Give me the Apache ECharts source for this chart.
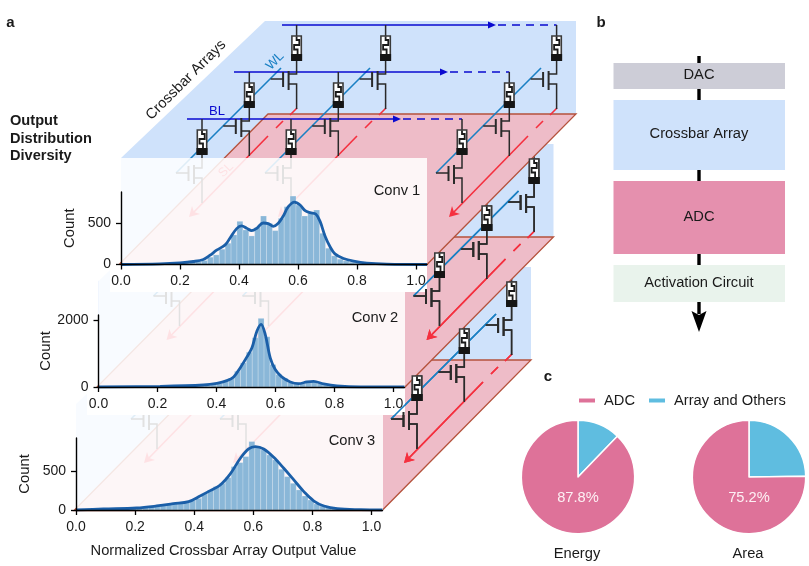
<!DOCTYPE html>
<html><head><meta charset="utf-8">
<style>html,body{margin:0;padding:0;background:#fff}#c{width:809px;height:566px}</style>
<script src="https://cdn.jsdelivr.net/npm/echarts@6/dist/echarts.min.js"></script>
</head><body><div id="c"></div>
<script>
// ---------- data ----------
const xTicks = [0, 0.2, 0.4, 0.6, 0.8, 1.0];
const yTicks1 = [0, 500];
const yTicks2 = [0, 2000];
const yTicks3 = [0, 500];
const panelNames = ['Conv 1', 'Conv 2', 'Conv 3'];
const binWidth = 0.02;

const binCenters1 = [.203,.223,.243,.263,.283,.303,.323,.343,.363,.383,.403,.423,.443,.463,.483,.503,.523,.543,.563,.583,.603,.623,.643,.663,.683,.703,.723,.743,.763,.783,.803,.823,.843];
const binCounts1  = [8,12,20,32,48,88,116,184,256,356,520,416,344,448,584,496,408,556,696,824,716,584,616,656,376,196,104,64,44,28,20,12,8];
const kdeX1 = [0,.132,.2,.245,.279,.302,.324,.353,.369,.392,.409,.426,.443,.46,.482,.499,.516,.533,.55,.567,.588,.607,.624,.641,.66,.675,.692,.708,.725,.754,.788,.833,.9,1.037];
const kdeY1 = [0,8,20,36,60,112,172,236,316,432,464,436,408,436,500,492,460,496,584,696,752,716,648,624,608,516,336,216,128,72,40,16,4,0];

const binCenters2 = [.311,.331,.351,.371,.391,.411,.431,.451,.471,.491,.511,.531,.551,.571,.591,.611,.631,.651,.671,.691,.711,.731,.751,.771,.791,.811,.831];
const binCounts2  = [10,15,20,40,60,100,170,270,470,720,1040,1470,2050,1500,670,370,270,140,90,100,160,160,100,60,30,20,10];
const kdeX2 = [0,.209,.356,.401,.435,.458,.48,.503,.52,.537,.551,.565,.582,.599,.621,.65,.678,.706,.729,.763,.808,.887,1.037];
const kdeY2 = [0,20,60,110,190,300,570,900,1170,1670,1870,1570,870,520,300,150,100,150,170,90,30,0,0];

const binCenters3 = [.135,.155,.175,.195,.215,.235,.255,.275,.295,.315,.335,.355,.375,.395,.415,.435,.455,.475,.495,.515,.535,.555,.575,.595,.615,.635,.655,.675,.695,.715,.735,.755,.775,.795,.815,.835,.855,.875,.895,.915];
const binCounts3  = [9,13,17,22,26,30,39,47,56,69,82,95,108,121,151,207,259,302,345,418,560,612,690,884,820,776,711,647,526,431,345,259,181,129,78,52,34,22,15,8];
const kdeX3 = [0,.093,.205,.273,.329,.381,.42,.454,.488,.522,.556,.584,.607,.635,.669,.703,.737,.771,.805,.839,.884,.963,1.037];
const kdeY3 = [0,13,26,52,82,108,181,250,323,466,668,789,819,789,681,539,388,237,116,52,17,4,0];

const pieNames = ['Energy', 'Area'];
const adcShare = [87.8, 75.2];
const arrayShare = [12.2, 24.8];
const sliceNames = ['ADC', 'Array and Others'];
const blockNames = ['DAC', 'Crossbar Array', 'ADC', 'Activation Circuit'];

// ---------- layout ----------
const FONT = '"Liberation Sans", Arial, sans-serif';
const TXT = '#1a1a1a';
const FS = 14.7;
const C = {blue:'#cfe2fb', pink:'#eebcc8', edge:'#b5523c', bl:'#0a0ad0', wl:'#1a80c4', sl:'#f5303f', wire:'#2a2a2a'};
const panels = [
  {left:121, bottom:264.5, top:192, width:306, yMax:873,  yTicks:yTicks1, nameGap:44, bins:binCenters1, counts:binCounts1, kx:kdeX1, ky:kdeY1},
  {left:98.5,bottom:387,   top:315, width:306, yMax:2150, yTicks:yTicks2, nameGap:45, bins:binCenters2, counts:binCounts2, kx:kdeX2, ky:kdeY2},
  {left:76,  bottom:510,   top:438, width:306.5, yMax:930,  yTicks:yTicks3, nameGap:44, bins:binCenters3, counts:binCounts3, kx:kdeX3, ky:kdeY3}
];
const X_MAX = 1.037;

const G = [];
const base = {silent:true, z:1};
function poly(points, fill, stroke, lw){G.push({...base,type:'polygon',shape:{points},style:{fill,stroke:stroke||null,lineWidth:lw||0}});}
function pl(points, stroke, lw, dash){G.push({...base,type:'polyline',shape:{points},style:{stroke,lineWidth:lw||1.5,fill:null,lineDash:dash||null}});}
function rect(x,y,w,h,fill,opacity,stroke,slw){G.push({...base,type:'rect',shape:{x,y,width:w,height:h},style:{fill,opacity:opacity==null?1:opacity,stroke:stroke||null,lineWidth:stroke?(slw||1):0}});}
function txt(text,x,y,o){o=o||{};G.push({...base,z:o.z||1,type:'text',x,y,rotation:o.rot||0,style:{text,x:0,y:0,fill:o.fill||TXT,font:(o.bold?'bold ':'')+(o.size||FS)+'px '+FONT,align:o.align||'center',verticalAlign:'middle'}});}

function cell(cx, bl, topWire){
  if(topWire) pl([[cx,bl],[cx,bl+11]],C.wire,1.5);
  pl([[cx,bl+36],[cx,bl+49],[cx-8,bl+49]],C.wire,1.5);
  pl([[cx-8,bl+46],[cx-8,bl+65]],C.wire,2);
  pl([[cx-8,bl+59],[cx,bl+59],[cx,bl+84]],C.wire,1.5);
  pl([[cx-13.5,bl+47],[cx-13.5,bl+62]],C.wire,2);
  pl([[cx-26,bl+54],[cx-13.5,bl+54]],C.wire,1.5);
  rect(cx-4.7,bl+11,9.4,24,'#fff',1,'#3a3a3a',1.6);
  rect(cx-5.5,bl+29,11,7,'#151515');
  pl([[cx,bl+11.5],[cx,bl+15],[cx+2.7,bl+15],[cx+2.7,bl+20],[cx-2.5,bl+20],[cx-2.5,bl+24.5],[cx+1,bl+24.5],[cx+1,bl+29]],'#1a1a1a',1.8);
}
const colX = [202,291,462], rowStep = 47.3, rowY = [119,72,25], blStart=[187,234,282], blHead=[400,447,495];
function colLines(c0,dx,dy){
  const p = (x,y)=>[x+dx,y+dy];
  pl([p(c0-26,173),p(c0+79,68)],C.wl,1.6);
  pl([p(c0-13+3,217-3),p(c0+66,136)],C.sl,1.6);
  pl([p(c0+74,128),p(c0+81,121)],C.sl,1.6);
  pl([p(c0+88,115),p(c0+95,108)],C.sl,1.6);
  poly([p(c0-13,217),p(c0-10,206),p(c0-8,212),p(c0-2,214)],C.sl);
}
function plane(dx,dy){
  const p=(x,y)=>[x+dx,y+dy];
  poly([p(265,21),p(576,21),p(576,114),p(271,114),p(121,264),p(121,158)],C.blue);
  poly([p(268,114),p(576,114),p(427,264.5),p(119,264.5)],C.pink,C.edge,1.3);
  colX.forEach(c=>colLines(c,dx,dy));
  rowY.forEach((y,i)=>{
    const lastX=colX[2]+i*rowStep;
    pl([p(blStart[i],y),p(blHead[i]-4,y)],C.bl,1.7);
    poly([p(blHead[i]+1,y),p(blHead[i]-7,y-3.5),p(blHead[i]-7,y+3.5)],C.bl);
    pl([p(blHead[i]+3,y),p(lastX,y)],C.bl,1.7,[8,6]);
  });
  colX.forEach(c=>rowY.forEach((y,i)=>cell(c+i*rowStep+dx,y+dy,true)));
}
function colCTop(dx,dy){
  colLines(colX[2],dx,dy);
  rowY.forEach((y,i)=>cell(colX[2]+i*rowStep+dx,y+dy,false));
}

// plane 3
plane(-45,246);
rect(76,387,307,123,'#fff',.86);
rect(30,281,68,106,'#fff');
// plane 2
plane(-22.5,123);
rect(98.5,264.5,306.5,122.5,'#fff',.86);
rect(87,387,318,28,'#fff');
rect(30,158,91,106.5,'#fff');
// plane 1
plane(0,0);
txt('SL',226,170,{fill:C.sl,size:12.5,rot:Math.PI/4});
rect(121,158,306,106.5,'#fff',.86);
rect(110,264.5,317,27.5,'#fff');
colCTop(-22.5,123);
colCTop(-45,246);

txt('Crossbar Arrays',186,80,{rot:Math.PI/4});
txt('WL',275,61,{fill:C.wl,size:13,rot:Math.PI/4});
txt('BL',217,111,{fill:C.bl,size:13});
txt('a',10.5,23,{bold:true,size:15});
txt('b',601,23,{bold:true,size:15});
txt('c',548,377,{bold:true,size:15});
['Output','Distribution','Diversity'].forEach((t,i)=>txt(t,10,121+i*17.5,{bold:true,size:14.6,align:'left'}));
txt(panelNames[0],397,191);
txt(panelNames[1],375,318);
txt(panelNames[2],352,441);
txt('Normalized Crossbar Array Output Value',223.5,551);

// panel b
pl([[699,56],[699,314]],'#000',3.4);
poly([[699,332],[691.5,311],[699,315],[706.5,311]],'#000');
const blocks=[[63,26,'#cdcdd7'],[100,70,'#cfe2fb'],[181,73,'#e590ae'],[265,37,'#e9f3ec']];
blocks.forEach((b,i)=>{rect(613.5,b[0],171.5,b[1],b[2]);txt(blockNames[i],699,b[0]+b[1]/2-1);});

// panel c texts
const pieC=[578,749], pieY=477, pieR=56.7;
pieNames.forEach((n,i)=>txt(n,[577,748][i],554));

// ---------- option ----------
function histItem(params, api){
  const x=api.value(0), y=api.value(1);
  const a=api.coord([x-binWidth/2,y]), b=api.coord([x+binWidth/2,0]);
  return {type:'rect',shape:{x:a[0],y:a[1],width:b[0]-a[0],height:b[1]-a[1]},
    style:{fill:'#8ab7d8',stroke:'rgba(255,255,255,.4)',lineWidth:.5}};
}
const grids=[],xAxes=[],yAxes=[],series=[];
panels.forEach((P,i)=>{
  grids.push({left:P.left,top:P.top,width:P.width,height:P.bottom-P.top,containLabel:false});
  xAxes.push({type:'value',gridIndex:i,min:0,max:X_MAX,z:6,splitLine:{show:false},
    axisLine:{lineStyle:{color:'#000',width:1.4}},
    axisTick:{length:5,lineStyle:{color:'#000',width:1.3},customValues:xTicks},
    axisLabel:{color:TXT,fontFamily:FONT,fontSize:14,margin:10,customValues:xTicks,formatter:v=>v.toFixed(1)}});
  yAxes.push({type:'value',gridIndex:i,min:0,max:P.yMax,z:6,splitLine:{show:false},
    name:'Count',nameLocation:'middle',nameRotate:90,nameGap:P.nameGap,nameTextStyle:{color:TXT,fontFamily:FONT,fontSize:14.8},
    axisLine:{show:true,lineStyle:{color:'#000',width:1.4}},
    axisTick:{show:true,length:5,lineStyle:{color:'#000',width:1.3},customValues:P.yTicks},
    axisLabel:{color:TXT,fontFamily:FONT,fontSize:14,margin:10,customValues:P.yTicks,formatter:v=>String(v)}});
  series.push({type:'custom',xAxisIndex:i,yAxisIndex:i,z:3,silent:true,renderItem:histItem,
    encode:{x:0,y:1},data:P.bins.map((x,k)=>[x,P.counts[k]])});
  series.push({type:'line',xAxisIndex:i,yAxisIndex:i,smooth:.35,showSymbol:false,z:4,silent:true,
    data:P.kx.map((x,k)=>[x,P.ky[k]]),
    lineStyle:{color:'#1b5fa8',width:2.8}});
});
pieNames.forEach((n,i)=>{
  series.push({type:'pie',name:n,center:[pieC[i],pieY],radius:[0,pieR],startAngle:90,clockwise:true,silent:true,z:3,
    label:{show:false},labelLine:{show:false},
    itemStyle:{borderColor:'#fff',borderWidth:1.5},
    data:[{name:sliceNames[1],value:arrayShare[i],itemStyle:{color:'#5fbde0'}},
          {name:sliceNames[0],value:adcShare[i],itemStyle:{color:'#de7299'}}]});
  txt(adcShare[i].toFixed(1)+'%',pieC[i],497.5,{fill:'#fdf0f4',z:9});
});

const chart=echarts.init(document.getElementById('c'),null,{renderer:'canvas'});
chart.setOption({
  animation:false,
  backgroundColor:'#fff',
  textStyle:{fontFamily:FONT},
  grid:grids,xAxis:xAxes,yAxis:yAxes,series,
  legend:{data:sliceNames,left:577,top:393,padding:0,icon:'rect',itemWidth:18,itemHeight:6,itemGap:12,selectedMode:false,
    textStyle:{color:TXT,fontFamily:FONT,fontSize:14.7,padding:[0,0,0,3]}},
  graphic:{elements:G}
});
</script></body></html>
